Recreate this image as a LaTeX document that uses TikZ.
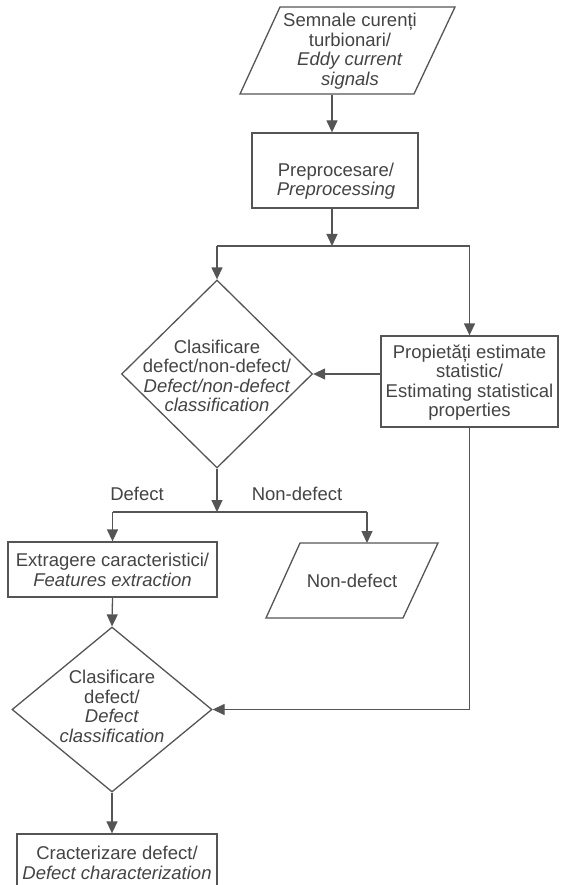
\documentclass[tikz,border=0pt]{standalone}
\usepackage{fontspec}
\setmainfont{Liberation Sans}
\usetikzlibrary{arrows.meta,shapes.geometric,calc}
\definecolor{ln}{RGB}{85,85,85}
\definecolor{tx}{RGB}{68,68,68}
\tikzset{
  lbl/.style={font=\fontsize{18.5}{19.5}\selectfont, text=tx, align=center, inner sep=0pt},
  boxed/.style={draw=ln, line width=1.3pt, inner sep=0pt},
  con/.style={draw=ln, line width=1.3pt},
  arr/.style={draw=ln, line width=1.3pt, -{Triangle[length=12pt,width=11pt]}},
  dia/.style={diamond, draw=ln, line width=1.3pt, inner sep=0pt},
}
\begin{document}
\begin{tikzpicture}[x=1pt,y=-1pt]
\useasboundingbox (0,0) rectangle (565,885);
\clip (0,0) rectangle (565,885);
\fill[white] (0,0) rectangle (565,885);

% input parallelogram
\draw[con] (280,7) -- (455,7) -- (414,94) -- (240,94) -- cycle;
\node[lbl, minimum height=87pt] (src) at (350,51) {Semnale curenți\\turbionari/\\\textit{Eddy current}\\\textit{signals}};

% preprocessing
\node[boxed, minimum width=166pt, minimum height=75pt] (pre) at (335,170.5) {};
\node[lbl] (pretxt) at (336,181) {Preprocesare/\\\textit{Preprocessing}};

% first decision
\node[dia, minimum width=191pt, minimum height=188pt] (d1) at (217,374) {};
\node[lbl] (d1txt) at (217,376) {Clasificare\\defect/non-defect/\\\textit{Defect/non-defect}\\\textit{classification}};

% statistical properties
\node[boxed, minimum width=177pt, minimum height=91pt] (props) at (469.5,381.5) {};
\node[lbl] (propstxt) at (469.5,382.5) {Propietăți estimate\\statistic/\\Estimating statistical\\properties};

% features extraction
\node[boxed, minimum width=209pt, minimum height=55pt] (ext) at (112.5,569.5) {};
\node[lbl] (exttxt) at (112.5,570) {Extragere caracteristici/\\\textit{Features extraction}};

% non-defect output
\draw[con] (300,543) -- (438,543) -- (403,618) -- (266,618) -- cycle;
\node[lbl, minimum width=100pt, minimum height=75pt] (nd) at (352,580.5) {Non-defect};
\coordinate (ndin) at (367,543);

% second decision
\node[dia, minimum width=200pt, minimum height=165pt] (d2) at (112,709.5) {};
\node[lbl] (d2txt) at (112,706.5) {Clasificare\\defect/\\\textit{Defect}\\\textit{classification}};

% characterization (cut at the page bottom)
\node[boxed, minimum width=200pt, minimum height=64pt] (bot) at (117,866) {};
\node[lbl] (bottxt) at (117,863) {Cracterizare defect/\\\textit{Defect characterization}};

% branch labels
\node[lbl] (ldef) at (137,494) {Defect};
\node[lbl] (lnon) at (297,494) {Non-defect};

% connectors
\coordinate (j1) at (332,246);
\coordinate (j2) at (217,512);
\draw[arr] (src.south -| j1) -- (pre.north -| j1);
\draw[arr] (pre.south -| j1) -- (j1);
\draw[con] (d1.north |- j1) -- (props.north |- j1);
\draw[arr] (d1.north |- j1) -- (d1.north);
\draw[arr] (props.north |- j1) -- (props.north);
\draw[arr] (props.west |- d1.east) -- (d1.east);
\draw[arr] (d1.south) -- (j2);
\draw[con] (ext.north |- j2) -- (ndin |- j2);
\draw[arr] (ext.north |- j2) -- (ext.north);
\draw[arr] (ndin |- j2) -- (ndin);
\draw[arr] (ext.south) -- (d2.north);
\draw[arr] (props.south) |- (d2.east);
\draw[arr] (d2.south) -- (d2.south |- bot.north);
\end{tikzpicture}
\end{document}
